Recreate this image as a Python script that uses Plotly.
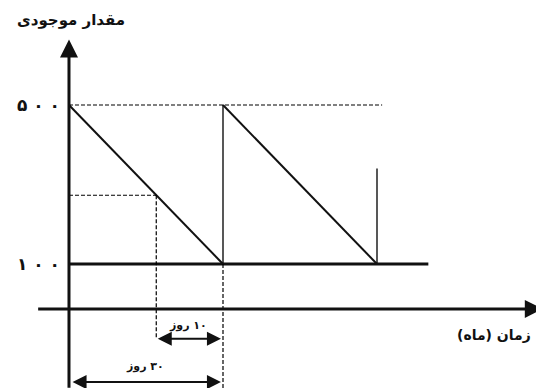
import plotly.graph_objects as go

# inventory sawtooth (time in days, quantity in units)
cycle_x = [0, 30, 30, 60]
cycle_y = [500, 100, 500, 100]
max_level = 500
safety_level = 100
reorder_day = 17
reorder_level = 273
second_reorder_top = 340
axis_level = -13

RLM = "\u200f"
y_label = "مقدار موجودی"
x_label = "زمان (ماه)"
tick_labels = ["۵ ۰ ۰", "۱ ۰ ۰"]
tick_values = [500, 100]
lead_label = "۱۰ روز"
cycle_label = "۳۰ روز"

FONT = "DejaVu Sans"
INK = "#111111"


def rtl(text):
    # keep the bidi order right-to-left inside the svg text
    return RLM + text + RLM


fig = go.Figure()

# falling stock lines
fig.add_trace(go.Scatter(
    x=[cycle_x[0], cycle_x[1], None, cycle_x[2], cycle_x[3]],
    y=[cycle_y[0], cycle_y[1], None, cycle_y[2], cycle_y[3]],
    mode="lines", line=dict(color=INK, width=2), hoverinfo="skip"
))

# restock verticals
fig.add_trace(go.Scatter(
    x=[cycle_x[1], cycle_x[2], None, cycle_x[3], cycle_x[3]],
    y=[cycle_y[1], cycle_y[2], None, safety_level, second_reorder_top],
    mode="lines", line=dict(color=INK, width=1.4), hoverinfo="skip"
))

# safety stock line
fig.add_trace(go.Scatter(
    x=[0, 70], y=[safety_level, safety_level], mode="lines",
    line=dict(color=INK, width=3), hoverinfo="skip"
))

# dashed helpers
dash = dict(color="#000000", width=1.2, dash="4px,2px")
fig.add_trace(go.Scatter(x=[0, 61], y=[max_level, max_level], mode="lines", line=dash, hoverinfo="skip"))
fig.add_trace(go.Scatter(x=[0, reorder_day], y=[reorder_level, reorder_level], mode="lines", line=dash, hoverinfo="skip"))
fig.add_trace(go.Scatter(x=[reorder_day, reorder_day], y=[reorder_level, -88], mode="lines", line=dash, hoverinfo="skip"))
fig.add_trace(go.Scatter(x=[cycle_x[1], cycle_x[1]], y=[safety_level, -215], mode="lines", line=dash, hoverinfo="skip"))

annotations = [
    # y axis with arrow
    dict(x=0, y=665, ax=0, ay=-215, xref="x", yref="y", axref="x", ayref="y",
         showarrow=True, arrowhead=2, arrowsize=1.2, arrowwidth=3, arrowcolor=INK, text=""),
    # x axis with arrow
    dict(x=92.3, y=axis_level, ax=-6.3, ay=axis_level, xref="x", yref="y", axref="x", ayref="y",
         showarrow=True, arrowhead=2, arrowsize=1.2, arrowwidth=3, arrowcolor=INK, text=""),
    # lead time arrow
    dict(x=29.6, y=-88, ax=reorder_day, ay=-88, xref="x", yref="y", axref="x", ayref="y",
         showarrow=True, arrowhead=2, arrowside="end+start", arrowsize=1.4, arrowwidth=2,
         arrowcolor=INK, text=""),
    # cycle arrow
    dict(x=29.6, y=-197, ax=0.4, ay=-197, xref="x", yref="y", axref="x", ayref="y",
         showarrow=True, arrowhead=2, arrowside="end+start", arrowsize=1.4, arrowwidth=2,
         arrowcolor=INK, text=""),
    dict(x=23.2, y=-54, xref="x", yref="y", text="<b>" + rtl(lead_label) + "</b>", showarrow=False,
         font=dict(family=FONT, size=11, color=INK)),
    dict(x=14.8, y=-159, xref="x", yref="y", text="<b>" + rtl(cycle_label) + "</b>", showarrow=False,
         font=dict(family=FONT, size=11, color=INK)),
    dict(x=0.4, y=714, xref="x", yref="y", text="<b>" + rtl(y_label) + "</b>", showarrow=False,
         font=dict(family=FONT, size=15, color=INK)),
    dict(x=82.7, y=-78, xref="x", yref="y", text="<b>" + rtl(x_label) + "</b>", showarrow=False,
         xanchor="center", font=dict(family=FONT, size=14, color=INK)),
]
for lab, val in zip(tick_labels, tick_values):
    annotations.append(dict(x=-1.4, y=val, xref="x", yref="y", text="<b>" + lab + "</b>",
                            showarrow=False, xanchor="right",
                            font=dict(family=FONT, size=17, color=INK)))

# page body keeps an 8px margin, so the figure is 8px smaller and the ranges start there
fig.update_layout(
    width=536, height=380,
    margin=dict(l=0, r=0, t=0, b=0),
    paper_bgcolor="white", plot_bgcolor="white",
    showlegend=False,
    xaxis=dict(range=[-11.88, 92.53], visible=False, fixedrange=True),
    yaxis=dict(range=[-211.9, 744.0], visible=False, fixedrange=True),
    annotations=annotations,
)

fig.write_html("out.html")
